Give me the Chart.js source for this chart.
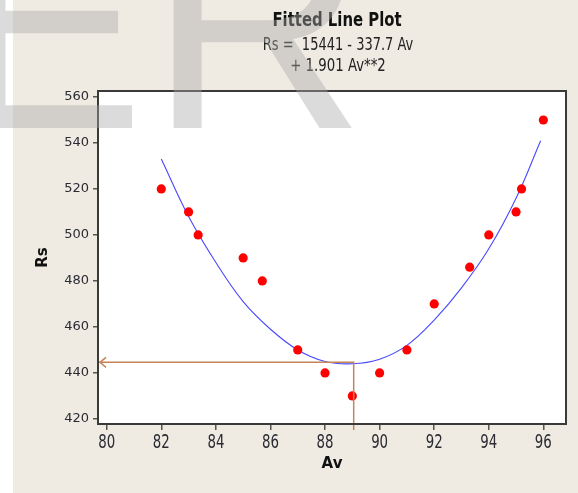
<!DOCTYPE html>
<html>
<head>
<meta charset="utf-8">
<script src="https://cdn.jsdelivr.net/npm/chart.js@4.4.1/dist/chart.umd.min.js"></script>
<style>
  html, body { margin: 0; padding: 0; background: #ffffff; }
  #wrap { position: relative; width: 578px; height: 493px; }
  canvas { display: block; }
</style>
</head>
<body>
<div id="wrap"><canvas id="c" width="578" height="493"></canvas></div>
<script>
// ---- data ----
const avValues = [82, 83, 83.35, 85, 85.7, 87, 88, 89, 90, 91, 92, 93.3, 94, 95, 95.2, 96];
const rsValues = [520, 510, 500, 490, 480, 450, 440, 430, 440, 450, 470, 486, 500, 510, 520, 550];
const fitAv = [82, 83, 84, 85, 86, 87, 88, 89, 90, 91, 92, 93, 94, 95, 95.9];
const fitRs = [533, 508, 488, 471, 459, 450, 445, 444, 446, 452, 463, 477, 494, 516, 541];
const xTicks = [80, 82, 84, 86, 88, 90, 92, 94, 96];
const yTicks = [420, 440, 460, 480, 500, 520, 540, 560];
const refAv = 89.05;     // vertical reference line
const refRs = 444.6;     // horizontal reference line
const titleText = 'Fitted Line Plot';
const eqLine1 = 'Rs =  15441 - 337.7 Av';
const eqLine2 = '+ 1.901 Av**2';
const xTitle = 'Av';
const yTitle = 'Rs';
const watermark = ['E', 'R'];

const BEIGE = '#efebe2';
const COND = '"DejaVu Sans Condensed", "DejaVu Sans", sans-serif';

function narrowText(ctx, text, x, y, sx) {
  ctx.save();
  ctx.translate(x, y);
  ctx.scale(sx, 1);
  ctx.fillText(text, 0, 0);
  ctx.restore();
}

const bgPlugin = {
  id: 'bg',
  beforeDraw(chart) {
    const {ctx, chartArea: a} = chart;
    ctx.save();
    ctx.fillStyle = '#ffffff';
    ctx.fillRect(0, 0, chart.width, chart.height);
    ctx.fillStyle = BEIGE;
    ctx.fillRect(13, 0, chart.width - 13, chart.height);
    ctx.fillStyle = '#ffffff';
    ctx.fillRect(a.left, a.top, a.right - a.left, a.bottom - a.top);
    ctx.restore();
  },
  afterDatasetsDraw(chart) {
    const {ctx, chartArea: a, scales} = chart;
    const xs = scales.x, ys = scales.y;
    const px = xs.getPixelForValue(refAv);
    const py = ys.getPixelForValue(refRs);
    ctx.save();
    ctx.strokeStyle = '#c5845a';
    ctx.lineWidth = 1.5;
    ctx.beginPath();
    ctx.moveTo(a.left + 1, py);
    ctx.lineTo(px, py);
    ctx.lineTo(px, a.bottom + 6);
    ctx.stroke();
    ctx.beginPath();
    ctx.moveTo(a.left + 8, py - 5);
    ctx.lineTo(a.left + 2, py);
    ctx.lineTo(a.left + 8, py + 5);
    ctx.stroke();
    // frame
    ctx.strokeStyle = '#3a3a3a';
    ctx.lineWidth = 2;
    ctx.strokeRect(a.left, a.top, a.right - a.left, a.bottom - a.top);
    ctx.restore();
  },
  afterDraw(chart) {
    const {ctx, chartArea: a, scales} = chart;
    ctx.save();
    // x tick labels (tall, narrow)
    ctx.fillStyle = '#2a2a33';
    ctx.font = '19px ' + COND;
    ctx.textAlign = 'center';
    ctx.textBaseline = 'alphabetic';
    xTicks.forEach(v => {
      narrowText(ctx, String(v), scales.x.getPixelForValue(v), a.bottom + 24, 0.78);
    });
    // titles
    ctx.fillStyle = '#111111';
    ctx.font = 'bold 19px ' + COND;
    narrowText(ctx, titleText, 337, 26, 0.87);
    ctx.fillStyle = '#222222';
    ctx.font = '17px ' + COND;
    narrowText(ctx, eqLine1, 338, 50, 0.85);
    narrowText(ctx, eqLine2, 338, 71, 0.87);
    // watermark
    ctx.beginPath();
    ctx.rect(0, 0, chart.width, 129);
    ctx.clip();
    ctx.fillStyle = 'rgba(170,170,170,0.42)';
    ctx.font = '300px "Liberation Sans", Arial, sans-serif';
    ctx.textAlign = 'left';
    narrowText(ctx, watermark[0], -44, 128, 0.94);
    ctx.fillText(watermark[1], 149, 128);
    ctx.restore();
  }
};

new Chart(document.getElementById('c'), {
  type: 'scatter',
  data: {
    datasets: [
      {
        data: avValues.map((v, i) => ({x: v, y: rsValues[i]})),
        backgroundColor: '#ff0000',
        borderWidth: 0,
        pointRadius: 4.6,
        showLine: false
      },
      {
        data: fitAv.map((v, i) => ({x: v, y: fitRs[i]})),
        borderColor: '#4848ff',
        borderWidth: 1.1,
        pointRadius: 0,
        showLine: true,
        tension: 0.4
      }
    ]
  },
  options: {
    responsive: false,
    animation: false,
    devicePixelRatio: 1,
    layout: { padding: { top: 91, right: 12, left: 0, bottom: 0 } },
    plugins: { legend: { display: false }, tooltip: { enabled: false } },
    scales: {
      x: {
        type: 'linear',
        min: 79.68, max: 96.83,
        afterBuildTicks: s => { s.ticks = xTicks.map(v => ({value: v})); },
        afterFit: s => { s.height = 69; },
        border: { display: false },
        grid: { drawOnChartArea: false, drawTicks: true, tickLength: 6, color: '#555555', lineWidth: 1.5 },
        ticks: { display: false },
        title: { display: true, text: xTitle, color: '#111111', padding: { top: 0, bottom: 20 },
                 font: { family: 'DejaVu Sans', size: 15, weight: 'bold' } }
      },
      y: {
        type: 'linear',
        min: 417.8, max: 562.6,
        afterBuildTicks: s => { s.ticks = yTicks.map(v => ({value: v})); },
        afterFit: s => { s.width = 98; },
        border: { display: false },
        grid: { drawOnChartArea: false, drawTicks: true, tickLength: 5, color: '#555555', lineWidth: 1.5 },
        ticks: { color: '#2a2a33', padding: 4, font: { family: 'DejaVu Sans', size: 13 } },
        title: { display: true, text: yTitle, color: '#111111', padding: { top: 34, bottom: 0 },
                 font: { family: 'DejaVu Sans', size: 15, weight: 'bold' } }
      }
    }
  },
  plugins: [bgPlugin]
});
</script>
</body>
</html>
